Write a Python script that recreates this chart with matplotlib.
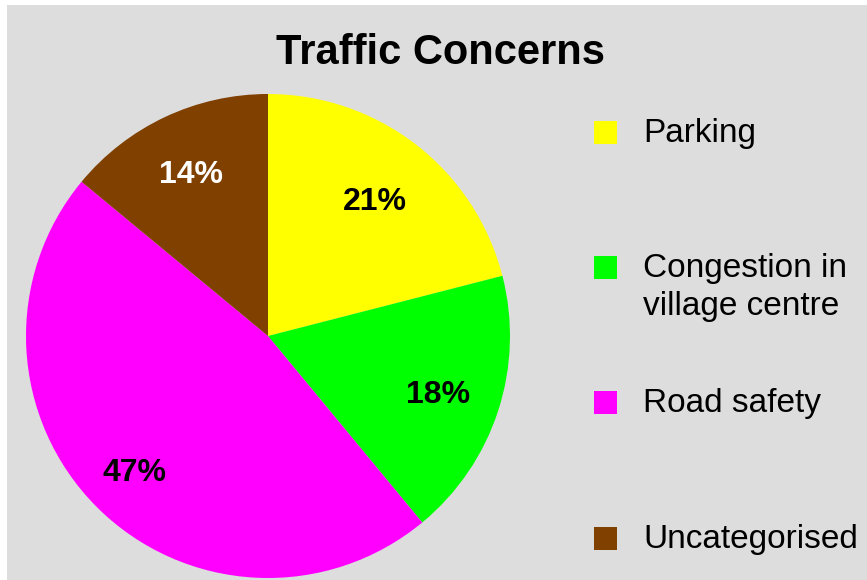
import matplotlib
matplotlib.use("Agg")
import matplotlib.pyplot as plt
from matplotlib.patches import Rectangle
import numpy as np

categories = ["Parking", "Congestion in\nvillage centre", "Road safety", "Uncategorised"]
values = [21, 18, 47, 14]
colors = ["#FFFF00", "#00FF00", "#FF00FF", "#804000"]
label_colors = ["black", "black", "black", "white"]
title = "Traffic Concerns"

W, H = 867, 580
fig = plt.figure(figsize=(W / 100, H / 100), dpi=100)
fig.patch.set_facecolor("white")
fig.patches.append(Rectangle((7 / W, 0), 1 - 7 / W, 1 - 5 / H, transform=fig.transFigure,
                             facecolor="#DDDDDD", edgecolor="none", zorder=-10))

font = "Liberation Sans"
cx, cy, r = 268, 336, 242
ax = fig.add_axes([(cx - r) / W, (H - cy - r) / H, 2 * r / W, 2 * r / H])
ax.set_axis_off()
wedges, texts, autotexts = ax.pie(values, colors=colors, startangle=90, counterclock=False,
                                  autopct="%d%%", pctdistance=0.75, radius=1.0,
                                  wedgeprops=dict(linewidth=0),
                                  textprops=dict(fontfamily=font, fontsize=23, fontweight="bold"))
label_dist = [0.72, 0.74, 0.78, 0.75]
for w, t, c, d in zip(wedges, autotexts, label_colors, label_dist):
    t.set_color(c)
    t.set_verticalalignment("center_baseline")
    mid = np.deg2rad((w.theta1 + w.theta2) / 2)
    t.set_position((d * np.cos(mid), d * np.sin(mid)))
ax.set_xlim(-1, 1)
ax.set_ylim(-1, 1)
ax.set_aspect("equal")

fig.text(441 / W, 1 - 53 / H, title, ha="center", va="center", fontfamily=font,
         fontsize=30, fontweight="bold", color="black")

baselines = [142, 277, 412, 548]
line_gap = 38
for cat, col, b in zip(categories, colors, baselines):
    fig.patches.append(Rectangle((594 / W, 1 - (b + 2) / H), 23 / W, 23 / H,
                                 transform=fig.transFigure, facecolor=col, edgecolor="none"))
    for i, line in enumerate(cat.split("\n")):
        fig.text(643 / W, 1 - (b + i * line_gap) / H, line, ha="left", va="baseline",
                 fontfamily=font, fontsize=24, color="black")

fig.savefig("out.png", dpi=100, facecolor=fig.get_facecolor())
